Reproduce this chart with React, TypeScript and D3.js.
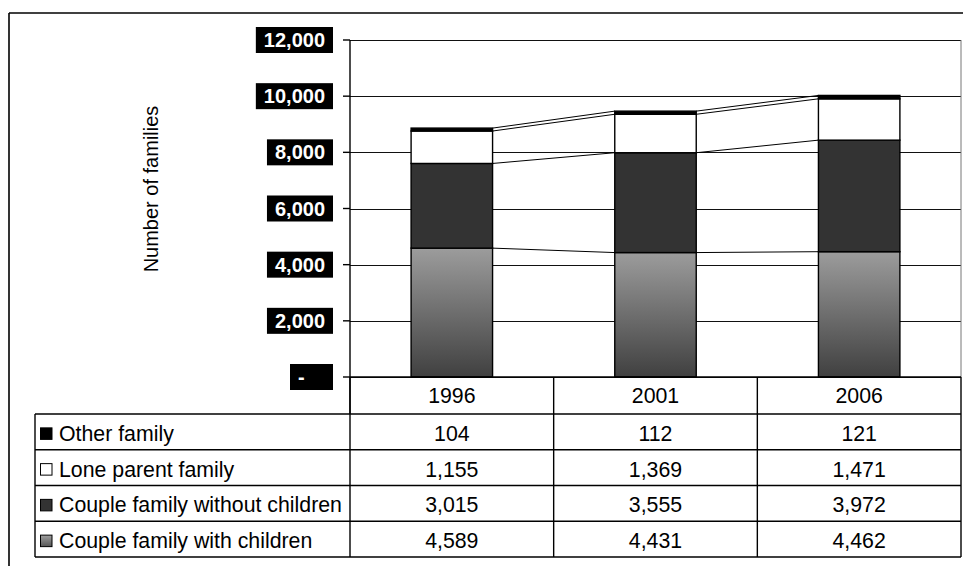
import React from 'react';
import * as d3 from 'd3';

const years = ['1996', '2001', '2006'];
const otherFamily = [104, 112, 121];
const loneParent = [1155, 1369, 1471];
const coupleWithout = [3015, 3555, 3972];
const coupleWith = [4589, 4431, 4462];
const yTicks = [0, 2000, 4000, 6000, 8000, 10000, 12000];
const seriesNames = ['Other family', 'Lone parent family', 'Couple family without children', 'Couple family with children'];
const yTitle = 'Number of families';

const W = 963, H = 566;
const plotL = 350, plotR = 961, plotT = 40, plotB = 377;
const headerB = 414;
const tableL = 35;
const rowH = 35.75;
const FONT = '"Liberation Sans", Arial, sans-serif';
const FS = 20;
const FT = 21.3;

export default function App() {
  const keys = ['with', 'without', 'lone', 'other'];
  const rows = years.map((y, i) => ({
    year: y,
    with: coupleWith[i],
    without: coupleWithout[i],
    lone: loneParent[i],
    other: otherFamily[i],
  }));
  const stacked = d3.stack<any>().keys(keys)(rows);

  const x = d3.scaleBand<string>().domain(years).range([plotL, plotR]).paddingInner(0.6).paddingOuter(0.3);
  const xCol = d3.scaleBand<string>().domain(years).range([plotL, plotR]).padding(0);
  const y = d3.scaleLinear().domain([0, 12000]).range([plotB, plotT]);

  const fills: Record<string, string> = {
    with: 'url(#gradWith)',
    without: '#333333',
    lone: '#ffffff',
    other: '#000000',
  };

  const fmt = (v: number) => (v === 0 ? '-' : d3.format(',')(v));
  const textW = (s: string) => {
    let w = 0;
    for (const c of s) w += c === ',' ? 0.278 : c === '-' ? 0.333 : 0.556;
    return w * FS;
  };

  const tableValues = [otherFamily, loneParent, coupleWithout, coupleWith];
  const swatchFill = ['#000000', '#ffffff', '#333333', 'url(#gradSwatch)'];

  const bw = x.bandwidth();

  return (
    <svg width={W} height={H} style={{ position: 'absolute', left: 0, top: 0, background: '#fff' }} fontFamily={FONT}>
      <defs>
        <linearGradient id="gradWith" x1="0" y1="0" x2="0" y2="1">
          <stop offset="0" stopColor="#9c9c9c" />
          <stop offset="1" stopColor="#404040" />
        </linearGradient>
        <linearGradient id="gradSwatch" x1="0" y1="0" x2="0" y2="1">
          <stop offset="0" stopColor="#a0a0a0" />
          <stop offset="1" stopColor="#555555" />
        </linearGradient>
      </defs>
      <rect x={0} y={0} width={W} height={H} fill="#fff" />
      {/* outer frame */}
      <line x1={9} y1={13} x2={W} y2={13} stroke="#000" strokeWidth={1.6} />
      <line x1={9} y1={13} x2={9} y2={H} stroke="#000" strokeWidth={1.6} />

      {/* gridlines */}
      {yTicks.map((t) => (
        <line key={'g' + t} x1={plotL} x2={plotR} y1={Math.round(y(t)) + 0.5} y2={Math.round(y(t)) + 0.5} stroke="#111" strokeWidth={1} />
      ))}
      <line x1={plotR} x2={plotR} y1={plotT} y2={plotB} stroke="#777" strokeWidth={1} />

      {/* series lines */}
      {stacked.map((s) =>
        years.slice(0, -1).map((yr, i) => (
          <line key={'sl' + s.key + i}
            x1={(x(yr) as number) + bw} y1={y(s[i][1])}
            x2={x(years[i + 1]) as number} y2={y(s[i + 1][1])}
            stroke="#000" strokeWidth={1} />
        ))
      )}

      {/* bars */}
      {stacked.map((s) =>
        s.map((d, i) => (
          <rect key={'b' + s.key + i}
            x={x(years[i]) as number}
            y={y(d[1])}
            width={bw}
            height={y(d[0]) - y(d[1])}
            fill={fills[s.key as string]}
            stroke="#000"
            strokeWidth={1.4} />
        ))
      )}

      {/* y axis */}
      <line x1={plotL} x2={plotL} y1={plotT} y2={headerB} stroke="#000" strokeWidth={1.4} />
      {yTicks.map((t) => {
        const ty = y(t);
        const label = fmt(t);
        const boxW = t === 0 ? 43 : textW(label) + 16;
        const boxL = 333 - boxW;
        return (
          <g key={'t' + t}>
            <line x1={343} x2={plotL} y1={ty} y2={ty} stroke="#000" strokeWidth={1.4} />
            <rect x={boxL} y={ty - 13} width={boxW} height={26} fill="#000" />
            <text x={boxL + 8} y={ty + 7} fill="#fff" fontSize={FS} fontWeight="bold">{label}</text>
          </g>
        );
      })}

      {/* y title */}
      <text transform={`translate(158,189) rotate(-90)`} textAnchor="middle" fontSize={FS} fill="#000">{yTitle}</text>

      {/* table */}
      {years.map((yr) => (
        <text key={'h' + yr} x={(xCol(yr) as number) + xCol.bandwidth() / 2} y={(plotB + headerB) / 2 + 7.5}
          textAnchor="middle" fontSize={FT} fill="#000">{yr}</text>
      ))}
      {seriesNames.map((name, r) => {
        const top = headerB + r * rowH;
        const cy = top + rowH / 2;
        return (
          <g key={'r' + r}>
            <rect x={40.5} y={cy - 4} width={11.5} height={11.5} fill={swatchFill[r]} stroke="#000" strokeWidth={1} />
            <text x={59} y={cy + 9} fontSize={FT} fill="#000">{name}</text>
            {years.map((yr, i) => (
              <text key={'v' + r + i} x={(xCol(yr) as number) + xCol.bandwidth() / 2} y={cy + 9}
                textAnchor="middle" fontSize={FT} fill="#000">{d3.format(',')(tableValues[r][i])}</text>
            ))}
          </g>
        );
      })}
      {/* table lines */}
      <line x1={plotL} x2={plotR} y1={plotB} y2={plotB} stroke="#000" strokeWidth={1.4} />
      {[0, 1, 2, 3, 4].map((r) => (
        <line key={'hl' + r} x1={tableL} x2={plotR} y1={headerB + r * rowH} y2={headerB + r * rowH} stroke="#000" strokeWidth={1.4} />
      ))}
      <line x1={tableL} x2={tableL} y1={headerB} y2={headerB + 4 * rowH} stroke="#000" strokeWidth={1.4} />
      <line x1={plotL} x2={plotL} y1={plotB} y2={headerB + 4 * rowH} stroke="#000" strokeWidth={1.4} />
      {years.map((yr) => (
        <line key={'vl' + yr} x1={(xCol(yr) as number) + xCol.bandwidth()} x2={(xCol(yr) as number) + xCol.bandwidth()}
          y1={plotB} y2={headerB + 4 * rowH} stroke="#000" strokeWidth={1.4} />
      ))}
    </svg>
  );
}
